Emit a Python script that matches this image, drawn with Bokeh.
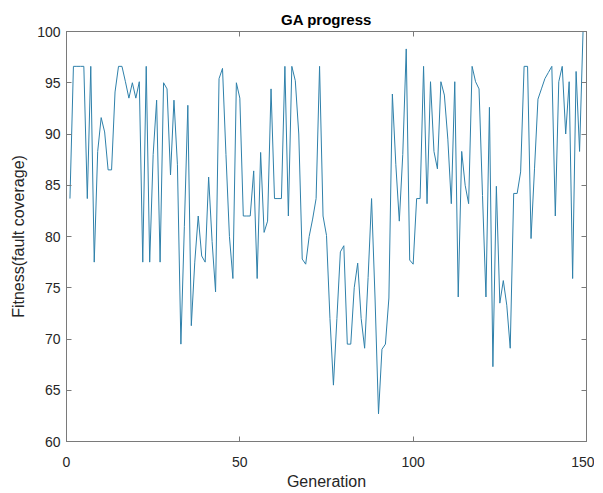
from bokeh.plotting import figure
from bokeh.models import Range1d, LinearAxis, FixedTicker
from bokeh.embed import file_html
from bokeh.resources import INLINE

generations = list(range(1, 151))
fitness = [
    83.7, 96.6, 96.6, 96.6, 96.6, 83.7, 96.6, 77.5, 88.3, 91.6,
    90.2, 86.5, 86.5, 94.1, 96.6, 96.6, 95.1, 93.5, 95.0, 93.5,
    95.1, 77.5, 96.6, 77.5, 88.0, 93.3, 77.5, 95.0, 94.4, 86.0,
    93.3, 87.0, 69.5, 81.0, 92.8, 71.3, 77.5, 82.0, 78.1, 77.5,
    85.8, 79.5, 74.6, 95.4, 96.4, 88.0, 80.0, 75.9, 95.0, 93.5,
    82.0, 82.0, 82.0, 86.4, 75.9, 88.2, 80.4, 81.5, 94.4, 83.7,
    83.7, 83.7, 96.6, 82.0, 96.6, 95.2, 90.0, 77.8, 77.3, 80.0,
    81.7, 83.7, 96.6, 82.0, 80.1, 72.0, 65.5, 72.0, 78.5, 79.1,
    69.5, 69.5, 75.0, 77.4, 72.0, 69.1, 76.0, 83.7, 74.0, 62.7,
    69.0, 69.5, 74.0, 93.9, 87.0, 81.5, 88.0, 98.3, 77.7, 77.3,
    83.7, 83.7, 96.6, 83.2, 95.1, 88.3, 86.6, 95.1, 93.8, 89.5,
    83.2, 95.1, 74.1, 88.3, 85.0, 83.2, 96.6, 95.1, 94.4, 84.0,
    74.1, 92.6, 67.3, 84.9, 73.5, 75.7, 73.3, 69.1, 84.2, 84.2,
    86.3, 96.6, 96.6, 79.8, 86.6, 93.4, 94.4, 95.4, 96.0, 96.6,
    82.0, 95.1, 96.6, 90.0, 95.1, 75.9, 96.1, 88.3, 100.0, 100.0,
]
x_ticks = [0, 50, 100, 150]
y_ticks = [60, 65, 70, 75, 80, 85, 90, 95, 100]

title_text = "GA progress"
x_label = "Generation"
y_label = "Fitness(fault coverage)"

FONT = "Liberation Sans"
AX = "#7a7a7a"
TXT = "#262626"

p = figure(
    frame_width=520, frame_height=410,
    x_range=Range1d(0, 150), y_range=Range1d(60, 100),
    output_backend="svg", toolbar_location=None, tools="",
    title=title_text,
)
p.min_border_left = 66
p.min_border_right = 8
p.min_border_top = 31
p.min_border_bottom = 47

p.title.align = "center"
p.title.text_font = FONT
p.title.text_font_size = "15px"
p.title.text_font_style = "bold"
p.title.text_color = "#000000"
p.title.standoff = 8
p.title.offset = 0

p.grid.visible = False
p.background_fill_color = "white"
p.border_fill_color = "white"
p.outline_line_color = AX

p.line(generations, fitness, line_color="#2f80aa", line_width=1.0)

for ax in (p.xaxis[0], p.yaxis[0]):
    ax.axis_line_color = AX
    ax.major_tick_line_color = AX
    ax.minor_tick_line_color = None
    ax.major_tick_in = 5
    ax.major_tick_out = 0
    ax.major_label_text_font = FONT
    ax.major_label_text_font_size = "14px"
    ax.major_label_text_color = TXT
    ax.axis_label_text_font = FONT
    ax.axis_label_text_font_size = "16px"
    ax.axis_label_text_font_style = "normal"
    ax.axis_label_text_color = TXT

p.xaxis.ticker = FixedTicker(ticks=x_ticks)
p.yaxis.ticker = FixedTicker(ticks=y_ticks)
p.xaxis.axis_label = x_label
p.yaxis.axis_label = y_label
p.xaxis.major_label_standoff = 15
p.xaxis.axis_label_standoff = 3
p.yaxis.major_label_standoff = 6
p.yaxis.axis_label_standoff = 7

top = LinearAxis(ticker=FixedTicker(ticks=x_ticks), major_label_text_font_size="0px",
                 axis_line_color=AX, major_tick_line_color=AX, minor_tick_line_color=None,
                 major_tick_in=5, major_tick_out=0, major_label_standoff=0)
right = LinearAxis(ticker=FixedTicker(ticks=y_ticks), major_label_text_font_size="0px",
                   axis_line_color=AX, major_tick_line_color=AX, minor_tick_line_color=None,
                   major_tick_in=5, major_tick_out=0, major_label_standoff=0)
top.major_label_text_color = None
right.major_label_text_color = None
p.add_layout(top, "above")
p.add_layout(right, "right")

open("out.html", "w").write(file_html(p, INLINE))
